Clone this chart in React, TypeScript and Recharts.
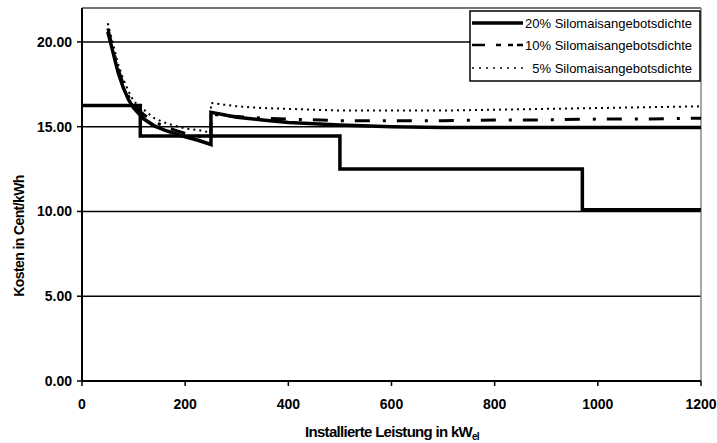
import React from 'react';
import { LineChart, Line, XAxis, YAxis, CartesianGrid, ReferenceLine, Legend } from 'recharts';

// Installed capacity (kW_el) for the cost curves
const leistungKurve = [50, 55, 60, 70, 80, 90, 100, 120, 140, 160, 180, 200, 225, 250, 250, 275, 300, 350, 400, 500, 600, 700, 800, 900, 1000, 1100, 1200];
// Costs in Cent/kWh for the three silage maize supply densities
const kosten20 = [20.6, 20.0, 19.4, 18.2, 17.3, 16.6, 16.1, 15.45, 15.05, 14.8, 14.6, 14.4, 14.2, 13.95, 15.85, 15.7, 15.55, 15.4, 15.25, 15.1, 15.0, 14.95, 14.95, 14.95, 14.95, 14.95, 14.95];
const kosten10 = [20.8, 20.2, 19.6, 18.4, 17.5, 16.8, 16.3, 15.7, 15.3, 15.0, 14.8, 14.6, 14.45, 14.3, 15.75, 15.65, 15.6, 15.5, 15.45, 15.35, 15.35, 15.35, 15.4, 15.4, 15.45, 15.45, 15.5];
const kosten5 = [21.1, 20.5, 19.9, 18.7, 17.8, 17.1, 16.5, 16.0, 15.5, 15.25, 15.05, 14.9, 14.8, 14.65, 16.4, 16.3, 16.2, 16.1, 16.05, 15.95, 15.95, 15.95, 16.0, 16.05, 16.1, 16.15, 16.2];
// Feed-in tariff step function
const leistungVerguetung = [0, 113, 113, 500, 500, 970, 970, 1200];
const verguetung = [16.25, 16.25, 14.45, 14.45, 12.5, 12.5, 10.1, 10.1];

const xTicks = [0, 200, 400, 600, 800, 1000, 1200];
const yTicks = [0, 5, 10, 15, 20];
const legendLabels = ['20% Silomaisangebotsdichte', '10% Silomaisangebotsdichte', '5% Silomaisangebotsdichte'];

const toPoints = (xs: number[], ys: number[]) => xs.map((x, i) => ({ x, y: ys[i] }));

const data20 = toPoints(leistungKurve, kosten20);
const data10 = toPoints(leistungKurve, kosten10);
const data5 = toPoints(leistungKurve, kosten5);
const dataTarif = toPoints(leistungVerguetung, verguetung);

const FONT = "'Liberation Sans', Arial, sans-serif";

const LegendBox = () => (
  <svg width={232} height={72} style={{ display: 'block' }}>
    <rect x={1} y={1} width={230} height={70} fill="#fff" stroke="#000" strokeWidth={1.5} />
    <line x1={3} y1={13} x2={54} y2={13} stroke="#000" strokeWidth={3.5} />
    <line x1={3} y1={35} x2={54} y2={35} stroke="#000" strokeWidth={2.5} strokeDasharray="13 11 5 7 5 4 9" />
    <line x1={3} y1={58} x2={54} y2={58} stroke="#000" strokeWidth={1.5} strokeDasharray="2 5" />
    {legendLabels.map((t, i) => (
      <text key={t} x={223} y={[13, 35, 58][i]} dy="0.35em" textAnchor="end" fontSize={13} fontFamily={FONT} fill="#000">
        {t}
      </text>
    ))}
  </svg>
);

const YTitle = () => (
  <text x={19} y={236} transform="rotate(-90, 19, 236)" textAnchor="middle" dominantBaseline="central" fontSize={14} fontWeight="bold" fontFamily={FONT} letterSpacing={-0.6} fill="#000">
    Kosten in Cent/kWh
  </text>
);

const XTitle = () => (
  <text x={392} y={437} textAnchor="middle" fontSize={15} fontWeight="bold" fontFamily={FONT} letterSpacing={-0.7} fill="#000">
    Installierte Leistung in kW
    <tspan fontSize={10} dy={3}>el</tspan>
  </text>
);

export default function App() {
  return (
    <div style={{ position: 'absolute', left: 0, top: 0, width: 717, height: 443, background: '#fff' }}>
      <LineChart width={717} height={443} margin={{ top: 8, right: 16, bottom: 0, left: 0 }}>
        <CartesianGrid vertical={false} stroke="#000" strokeWidth={1.5} />
        <XAxis
          type="number"
          dataKey="x"
          domain={[0, 1200]}
          ticks={xTicks}
          height={62}
          axisLine={{ stroke: '#000', strokeWidth: 2 }}
          tickLine={{ stroke: '#000', strokeWidth: 1.5 }}
          tickSize={5}
          tickMargin={13}
          tick={{ fill: '#000', fontSize: 14, fontWeight: 'bold', fontFamily: FONT }}
          label={<XTitle />}
          allowDuplicatedCategory={false}
        />
        <YAxis
          type="number"
          domain={[0, 22]}
          ticks={yTicks}
          width={82}
          axisLine={{ stroke: '#000', strokeWidth: 2 }}
          tickLine={{ stroke: '#000', strokeWidth: 1.5 }}
          tickSize={5}
          tickMargin={5}
          tickFormatter={(v: number) => v.toFixed(2)}
          tick={{ fill: '#000', fontSize: 14, fontWeight: 'bold', fontFamily: FONT }}
          label={<YTitle />}
        />
        <ReferenceLine y={22} stroke="#888" strokeWidth={1.5} />
        <ReferenceLine x={1200} stroke="#888" strokeWidth={1.5} />
        <Line data={dataTarif} dataKey="y" stroke="#000" strokeWidth={3.5} dot={false} isAnimationActive={false} legendType="none" name="Vergütung" />
        <Line data={data5} dataKey="y" stroke="#000" strokeWidth={2} strokeDasharray="2 4" dot={false} isAnimationActive={false} name={legendLabels[2]} />
        <Line data={data10} dataKey="y" stroke="#000" strokeWidth={3} strokeDasharray="15 13 3 11" dot={false} isAnimationActive={false} name={legendLabels[1]} />
        <Line data={data20} dataKey="y" stroke="#000" strokeWidth={3.5} dot={false} isAnimationActive={false} name={legendLabels[0]} />
        <Legend
          layout="vertical"
          align="center"
          verticalAlign="middle"
          content={<LegendBox />}
          wrapperStyle={{ position: 'absolute', left: 469, top: 10, width: 232, height: 72 }}
        />
      </LineChart>
    </div>
  );
}
